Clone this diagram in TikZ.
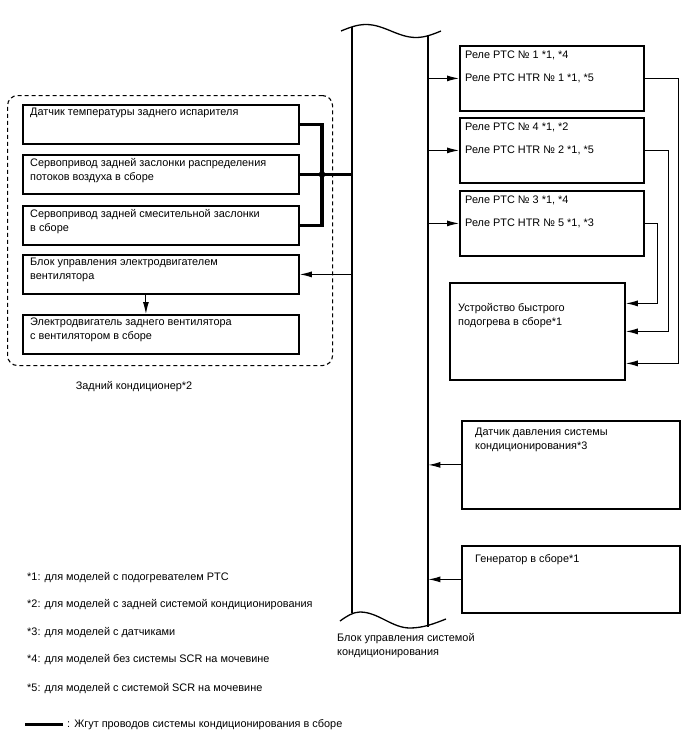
\documentclass[tikz,border=0pt]{standalone}
\usepackage{fontspec}
\setmainfont{Liberation Sans}
\usetikzlibrary{arrows.meta,positioning,calc}
\newcommand\diagfont{\fontsize{10.9}{14}\selectfont}
\tikzset{
  arr/.style={-{Latex[length=12pt,width=6pt]}, line width=1pt},
  harness/.style={line width=3.2pt},
  busline/.style={line width=1.3pt},
  blk/.style={draw, line width=1.8pt, inner sep=0pt, anchor=north west},
  lbox/.style={blk, minimum width=276, minimum height=39},
  rbox/.style={blk, minimum width=184, minimum height=65},
  grp/.style={draw, dashed, dash pattern=on 4pt off 3pt, line width=1.1pt,
    rounded corners=10pt, inner sep=0pt, anchor=north west},
  intext/.style={anchor=north west, inner sep=0pt, align=left, font=\diagfont},
  lin/.style={intext, xshift=8pt, yshift=-4pt},
  rin/.style={intext, xshift=6pt, yshift=-6pt},
  fn/.style={font=\diagfont, inner sep=0pt, anchor=base west}
}
\begin{document}
\begin{tikzpicture}[x=1pt,y=-1pt]
  \useasboundingbox (0,0) rectangle (688,755);
  % rear a/c group
  \node[grp, minimum width=325, minimum height=270] (rearAc) at (7,95) {};
  \node[font=\diagfont, inner sep=0pt, anchor=base] (rearLbl) at (134,389) {Задний кондиционер*2};
  \node[lbox, label={[lin]north west:Датчик температуры заднего испарителя}] (evapSens) at (22,104) {};
  \node[lbox, label={[lin]north west:{Сервопривод задней заслонки распределения\\потоков воздуха в сборе}}] (airServo) at (22,154) {};
  \node[lbox, label={[lin]north west:{Сервопривод задней смесительной заслонки\\в сборе}}] (mixServo) at (22,205) {};
  \node[lbox, label={[lin]north west:{Блок управления электродвигателем\\вентилятора}}] (fanCtrl) at (22,254) {};
  \node[lbox, label={[lin]north west:{Электродвигатель заднего вентилятора\\с вентилятором в сборе}}] (fanMotor) at (22,314) {};

  % a/c amplifier
  \node[inner sep=0pt, minimum width=76, minimum height=590, anchor=north west] (ecu) at (352,30) {};
  \draw[busline] (352,27) -- (352,613);
  \draw[busline] (428,36) -- (428,627);
  \draw[busline] (341,31) sin (366,24.5) cos (391,31) sin (416,37.5) cos (441,31);
  \draw[busline] (340,621) sin (360,612) cos (385,620) sin (410,628) cos (446,619);
  \node[intext] (ecuLbl) at (337,633.5) {Блок управления системой\\кондиционирования};

  % ptc relays
  \node[rbox, label={[rin]north west:{Реле PTC № 1 *1, *4\\[9pt]Реле PTC HTR № 1 *1, *5}}] (ptcOne) at (459,45) {};
  \node[rbox, label={[rin]north west:{Реле PTC № 4 *1, *2\\[9pt]Реле PTC HTR № 2 *1, *5}}] (ptcTwo) at (459,117) {};
  \node[rbox, label={[rin]north west:{Реле PTC № 3 *1, *4\\[9pt]Реле PTC HTR № 5 *1, *3}}] (ptcThree) at (459,190) {};
  \node[blk, minimum width=175, minimum height=97,
    label={[intext, xshift=9pt, yshift=-21pt]north west:{Устройство быстрого\\подогрева в сборе*1}}] (quickHtr) at (449,282) {};
  \node[blk, minimum width=218, minimum height=88,
    label={[intext, xshift=14pt, yshift=-8pt]north west:{Датчик давления системы\\кондиционирования*3}}] (presSens) at (461,420) {};
  \node[blk, minimum width=218, minimum height=67,
    label={[intext, xshift=14pt, yshift=-9pt]north west:Генератор в сборе*1}] (gen) at (461,545) {};

  % harness
  \coordinate (jn) at (322,0 |- airServo.east);
  \draw[harness] (evapSens.east) -| (jn) |- (mixServo.east);
  \draw[harness] (airServo.east) -- (airServo.east -| ecu.west);
  \fill (jn) circle (3.3);

  % signals
  \draw[arr] (fanCtrl.east -| ecu.west) -- (fanCtrl.east);
  \draw[arr] ($(fanCtrl.south)+(-15,0)$) -- ($(fanMotor.north)+(-15,0)$);
  \draw[arr] (ptcOne.west -| ecu.east) -- (ptcOne.west);
  \draw[arr] (ptcTwo.west -| ecu.east) -- (ptcTwo.west);
  \draw[arr] (ptcThree.west -| ecu.east) -- (ptcThree.west);
  \draw[arr] (ptcOne.east) -- ++(34,0) |- ($(quickHtr.east)+(0,32)$);
  \draw[arr] (ptcTwo.east) -- ++(24,0) |- (quickHtr.east);
  \draw[arr] (ptcThree.east) -- ++(13,0) |- ($(quickHtr.east)+(0,-28)$);
  \draw[arr] (presSens.west) -- (presSens.west -| ecu.east);
  \draw[arr] (gen.west) -- (gen.west -| ecu.east);

  % notes
  \node[fn] (noteOne) at (27,580) {*1: для моделей с подогревателем PTC};
  \node[fn] (noteTwo) at (27,607) {*2: для моделей с задней системой кондиционирования};
  \node[fn] (noteThree) at (27,635) {*3: для моделей с датчиками};
  \node[fn] (noteFour) at (27,662) {*4: для моделей без системы SCR на мочевине};
  \node[fn] (noteFive) at (27,691) {*5: для моделей с системой SCR на мочевине};
  \node[fn] (legend) at (67,727) {: Жгут проводов системы кондиционирования в сборе};
  \draw[harness] ($(legend.west)+(-4,0)$) -- ++(-38,0);
\end{tikzpicture}
\end{document}
